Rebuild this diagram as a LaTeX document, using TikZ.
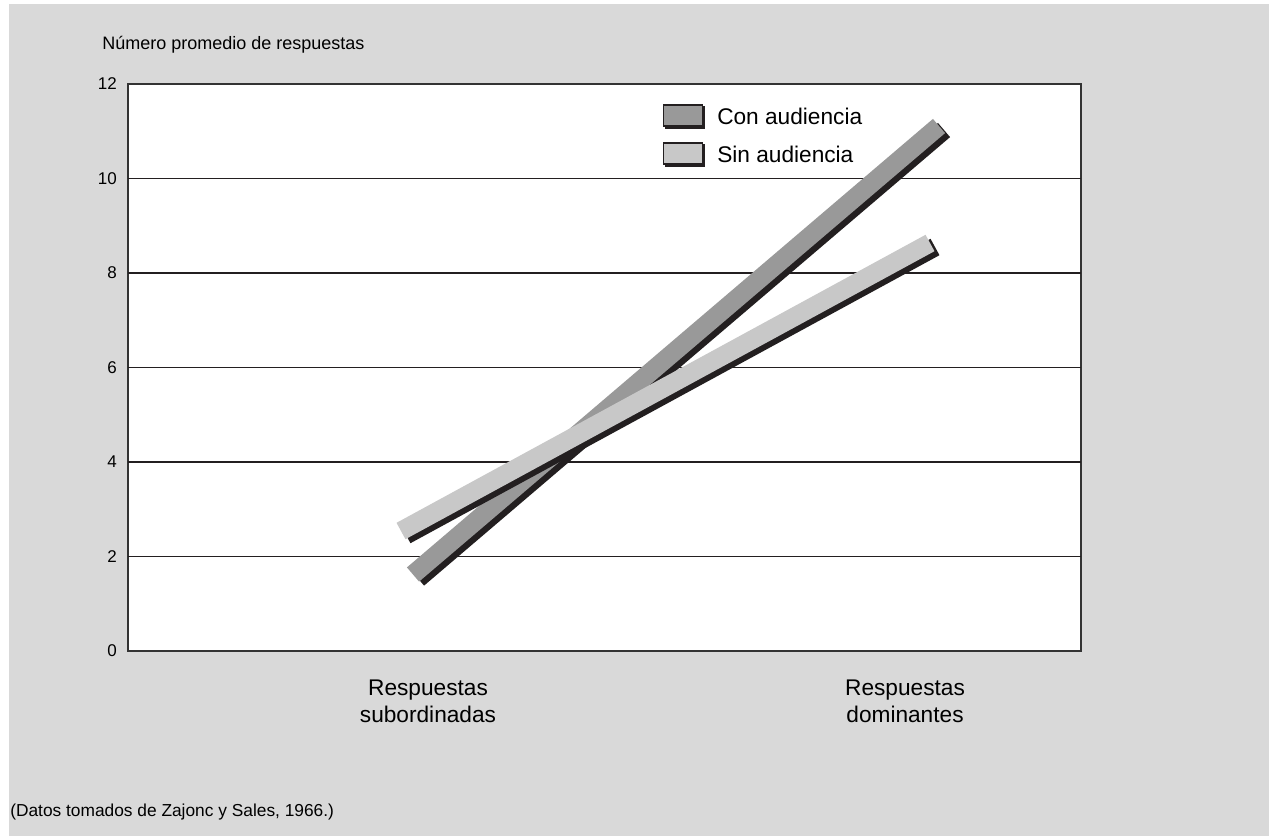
\documentclass[tikz,border=0pt]{standalone}
\usepackage{fontspec}
\setmainfont{Liberation Sans}
\definecolor{fondo}{HTML}{D9D9D9}
\definecolor{congris}{HTML}{999999}
\definecolor{singris}{HTML}{C8C8C8}
\definecolor{negro}{HTML}{231F20}
\definecolor{marco}{HTML}{333333}
\tikzset{%
  eje/.style      = {font=\fontsize{12.75}{15}\selectfont, anchor=east, inner sep=0pt}, % tick labels
  categ/.style    = {font=\fontsize{17}{20}\selectfont, align=center, anchor=north, inner sep=0pt},
  leyenda/.style  = {font=\fontsize{17}{20}\selectfont, anchor=west, inner sep=0pt},
  caja/.style     = {draw=negro, line width=1.2pt, rectangle, minimum width=29pt,
    minimum height=16pt, inner sep=0pt},
  banda/.style    = {line width=14pt}, % gray band
  bandasombra/.style = {line width=14pt, draw=negro,
    transform canvas={xshift=3.75pt, yshift=-3pt}}, % black shadow
  rejilla/.style  = {line width=1.1pt, draw=negro}
}

\begin{document}
% pixel coordinates, y going down
\begin{tikzpicture}[x=0.75pt, y=-0.75pt]
\useasboundingbox (0,0) rectangle (1269,836);
\fill[fondo] (9,4) rectangle (1269,836);
\filldraw[fill=white, draw=marco, line width=1.5pt] (128,84) rectangle (1081,651);
\foreach \v in {1,...,5}
	\draw[rejilla] (128,651-94.5*\v) -- (1081,651-94.5*\v);
\foreach \v in {0,...,6}
	\node[eje] at (117,651-94.5*\v) {\the\numexpr 2*\v\relax};
\draw
	node at (102,45)[anchor=west, inner sep=0pt, font=\fontsize{13.5}{16}\selectfont, name=titulo]{Número promedio de respuestas}
	node at (10,812)[anchor=west, inner sep=0pt, font=\fontsize{13}{16}\selectfont, name=fuente]{(Datos tomados de Zajonc y Sales, 1966.)};
\draw
	node at (428,680)[categ, name=subord]{Respuestas\\subordinadas}
	node at (905,680)[categ, name=domin]{Respuestas\\dominantes};
% data
\coordinate (con1) at (413,574.5);
\coordinate (con2) at (939,126);
\coordinate (sin1) at (401,531);
\coordinate (sin2) at (930,243);
\draw[bandasombra] (con1) -- (con2);
\draw[banda, congris] (con1) -- (con2);
\draw[bandasombra] (sin1) -- (sin2);
\draw[banda, singris] (sin1) -- (sin2);
% legend
\fill[negro] (665,106) rectangle (705,129);
\fill[negro] (665,144) rectangle (705,167);
\draw
	node at (683,115.5)[caja, fill=congris, name=cajacon]{}
	node at (683,153.5)[caja, fill=singris, name=cajasin]{};
\draw
	node at (717,116)[leyenda, name=textocon]{Con audiencia}
	node at (717,154)[leyenda, name=textosin]{Sin audiencia};
\end{tikzpicture}
\end{document}
